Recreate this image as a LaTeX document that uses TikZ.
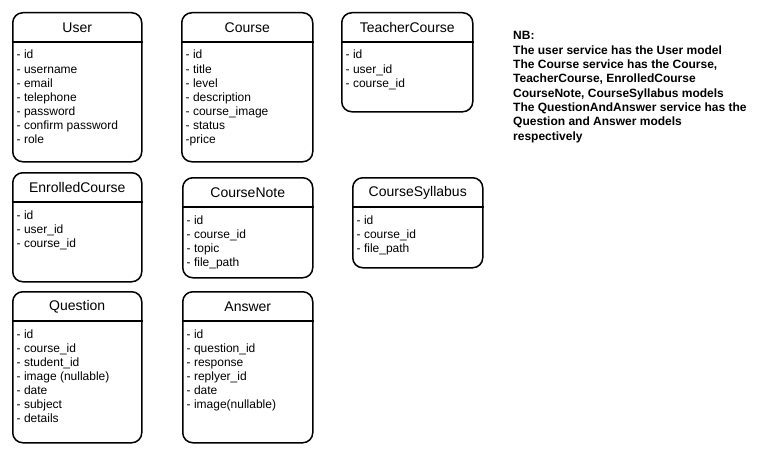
\documentclass[tikz,border=0pt]{standalone}
\usepackage{fontspec}
\setsansfont{Liberation Sans}
\usetikzlibrary{positioning}

\tikzset{
  entity/.style={draw, line width=1.5pt, rounded corners=10pt, anchor=north west, inner sep=0pt},
  entity line/.style={line width=1.5pt},
  title/.style={font=\sffamily\fontsize{14}{16}\selectfont, inner sep=0pt},
  attr/.style={font=\sffamily\fontsize{12}{14}\selectfont, anchor=base west, inner sep=0pt},
  note/.style={font=\sffamily\bfseries\fontsize{12}{14.3}\selectfont, align=left, anchor=north west, inner sep=0pt}
}

\begin{document}
\begin{tikzpicture}[x=1pt, y=-1pt, font=\sffamily]
        \useasboundingbox (0,0) rectangle (762,452);
        \foreach \id/\x/\y/\w/\h/\ttl/\attrs in {
          user/12/12/129/149/User/{- id,- username,- email,- telephone,- password,- confirm password,- role},
          course/181/12/131/149/Course/{- id,- title,- level,- description,- course\_image,- status,-price},
          teachercourse/341/12/131/99/TeacherCourse/{- id,- user\_id,- course\_id},
          enrolledcourse/12/172/129/109/EnrolledCourse/{- id,- user\_id,- course\_id},
          coursenote/182/177/130/100/CourseNote/{- id,- course\_id,- topic,- file\_path},
          coursesyllabus/352/177/130/90/CourseSyllabus/{- id,- course\_id,- file\_path},
          question/12/291/129/151/Question/{- id,- course\_id,- student\_id,- image (nullable),- date,- subject,- details},
          answer/182/291/130/151/Answer/{- id,- question\_id,- response,- replyer\_id,- date,- image(nullable)}} {
          \node[entity, minimum width=\w pt, minimum height=\h pt] (\id) at (\x,\y) {};
          \draw[entity line] ([yshift=-30pt]\id.north west) -- ([yshift=-30pt]\id.north east);
          \node[title] (\id-title) at ([yshift=-15.5pt]\id.north) {\ttl};
          \foreach \a [count=\i] in \attrs {
            \node[attr] (\id-\i) at ([xshift=4.5pt, yshift={-33pt-14pt*\i}]\id.north west) {\a};
          }
        }
        \node[note] (nb) at (513,31.5) {NB:\\The user service has the User model\\The Course service has the Course,\\TeacherCourse, EnrolledCourse\\CourseNote, CourseSyllabus models\\The QuestionAndAnswer service has the\\Question and Answer models\\respectively};
      \end{tikzpicture}
\end{document}
